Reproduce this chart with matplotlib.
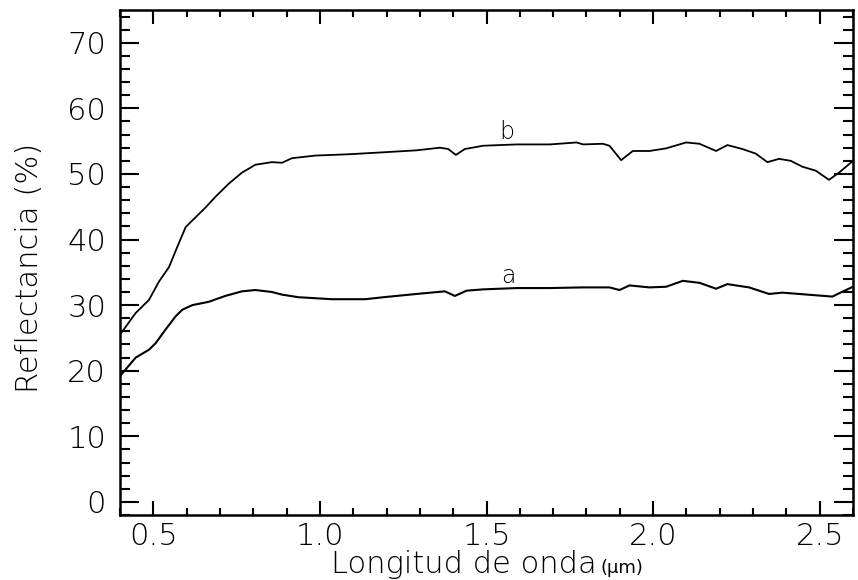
#!/usr/bin/env python3
"""
Reflectance spectra, curves a and b
"""
import numpy as np
import matplotlib
matplotlib.use('Agg')
import matplotlib.pyplot as plt
from matplotlib.ticker import MultipleLocator, FormatStrFormatter

# wavelength (um) and reflectance (%)
wl_b = [0.40, 0.447, 0.487, 0.517, 0.547, 0.572, 0.597, 0.627, 0.657, 0.686,
        0.726, 0.766, 0.806, 0.856, 0.886, 0.916, 0.986, 1.086, 1.19, 1.29,
        1.36, 1.385, 1.408, 1.435, 1.49, 1.59, 1.69, 1.77, 1.79, 1.849,
        1.869, 1.904, 1.939, 1.989, 2.039, 2.099, 2.139, 2.189, 2.223, 2.268,
        2.308, 2.343, 2.378, 2.413, 2.448, 2.488, 2.528, 2.558, 2.60]
refl_b = [25.5, 28.8, 30.8, 33.6, 35.8, 38.9, 41.9, 43.4, 44.9, 46.5,
          48.5, 50.2, 51.4, 51.8, 51.7, 52.4, 52.8, 53.0, 53.3, 53.6,
          54.0, 53.8, 52.9, 53.8, 54.3, 54.5, 54.5, 54.8, 54.5, 54.6,
          54.3, 52.1, 53.5, 53.5, 53.9, 54.8, 54.6, 53.5, 54.4, 53.8,
          53.1, 51.8, 52.3, 52.0, 51.1, 50.5, 49.1, 50.2, 52.0]

wl_a = [0.40, 0.422, 0.447, 0.487, 0.507, 0.537, 0.567, 0.587, 0.617, 0.666,
        0.716, 0.766, 0.806, 0.856, 0.886, 0.936, 1.036, 1.136, 1.19, 1.29,
        1.375, 1.405, 1.44, 1.49, 1.59, 1.69, 1.789, 1.869, 1.899, 1.929,
        1.989, 2.039, 2.089, 2.139, 2.189, 2.223, 2.288, 2.348, 2.388, 2.438,
        2.488, 2.538, 2.558, 2.60]
refl_a = [19.2, 20.5, 22.0, 23.2, 24.2, 26.3, 28.3, 29.3, 30.0, 30.5,
          31.4, 32.1, 32.3, 32.0, 31.6, 31.2, 30.9, 30.9, 31.2, 31.7,
          32.1, 31.4, 32.2, 32.4, 32.6, 32.6, 32.7, 32.7, 32.3, 33.0,
          32.7, 32.8, 33.7, 33.4, 32.5, 33.2, 32.7, 31.7, 31.9, 31.7,
          31.5, 31.3, 31.8, 32.8]

labels = ['a', 'b']
label_pos = [(1.565, 33.3), (1.562, 55.3)]

plt.rcParams['font.family'] = ['DejaVu Sans']
fs = 22

fig = plt.figure(figsize=(8.58, 5.80), dpi=100)
ax = fig.add_axes([0.1399, 0.1121, 0.8543, 0.8707])

ax.plot(wl_b, refl_b, color='black', lw=1.3)
ax.plot(wl_a, refl_a, color='black', lw=1.5)
for lab, (x, y) in zip(labels, label_pos):
    ax.text(x, y, lab, fontsize=17, ha='center', va='baseline',
            fontweight='light')

ax.set_xlim(0.4, 2.6)
ax.set_ylim(-2, 75)
ax.xaxis.set_major_locator(MultipleLocator(0.5))
ax.xaxis.set_minor_locator(MultipleLocator(0.1))
ax.yaxis.set_major_locator(MultipleLocator(10))
ax.yaxis.set_minor_locator(MultipleLocator(2))
ax.xaxis.set_major_formatter(FormatStrFormatter('%.1f'))

ax.tick_params(which='both', direction='in', top=True, right=True,
               width=1.5, labelsize=fs)
ax.tick_params(axis='y', which='major', length=14, pad=10)
ax.tick_params(axis='y', which='minor', length=7)
ax.tick_params(axis='x', which='major', length=10, pad=5)
ax.tick_params(axis='x', which='minor', length=5)
for lbl in ax.get_xticklabels() + ax.get_yticklabels():
    lbl.set_fontweight('light')
for sp in ax.spines.values():
    sp.set_linewidth(1.8)

fig.text(597 / 858, 1 - 573 / 580, 'Longitud de onda', fontsize=fs,
         ha='right', va='baseline', fontweight='light')
fig.text(601 / 858, 1 - 573 / 580, '(µm)', fontsize=13,
         ha='left', va='baseline')
fig.text(30 / 858, 1 - 268 / 580, 'Reflectancia (%)', fontsize=fs,
         rotation=90, ha='center', va='center', fontweight='light')

fig.savefig('out.png', dpi=100)
